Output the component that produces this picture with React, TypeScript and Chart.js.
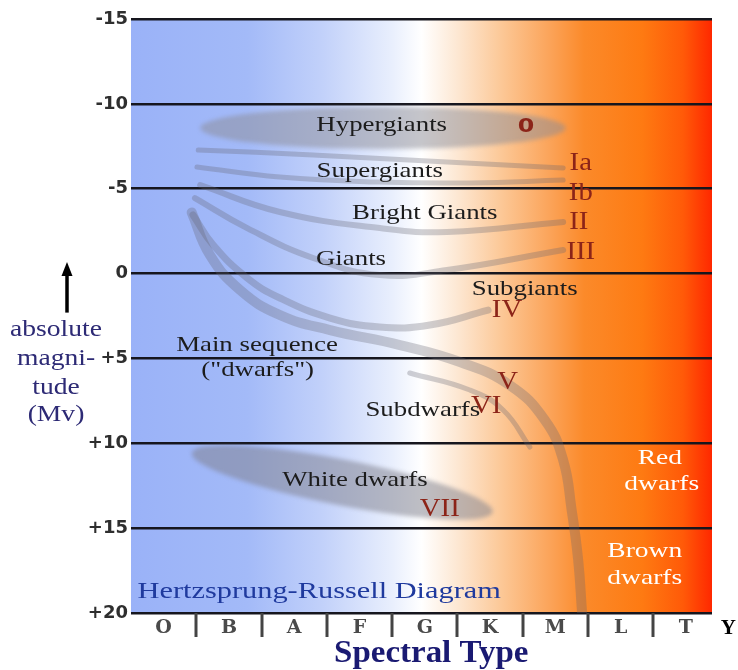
import React, { useEffect, useRef } from 'react';
import { Chart, registerables } from 'chart.js';

Chart.register(...registerables);

// ---- Data ----
const spectralTypes = ['O', 'B', 'A', 'F', 'G', 'K', 'M', 'L', 'T'];
const extraType = 'Y';
const magnitudeTicks = [-15, -10, -5, 0, 5, 10, 15, 20];

// Luminosity-class tracks: [spectral position, absolute magnitude]
const classIa = [[1.03, -7.28], [2.79, -6.99], [4.84, -6.57], [6.62, -6.22]];
const classIb = [[1.01, -6.28], [2.28, -5.69], [3.81, -5.39], [5.19, -5.34], [6.62, -5.51]];
const classII = [[1.06, -5.22], [2.28, -3.63], [3.81, -2.68], [4.84, -2.45], [6.62, -3.04]];
const classIII = [[0.98, -4.45], [1.78, -2.68], [2.79, -0.92], [3.81, 0.09], [4.84, -0.21], [6.62, -1.39]];
const classIV = [[0.95, -3.45], [1.26, -1.68], [1.78, 0.26], [2.28, 1.44], [3.05, 2.62], [3.81, 3.15], [4.58, 3.03], [5.47, 2.15]];
const classV = [[0.93, -3.6], [1.21, -1.09], [1.67, 0.97], [2.28, 2.44], [3.05, 3.33], [4.12, 4.21], [5.04, 5.21], [5.8, 6.57], [6.34, 8.63], [6.62, 10.99], [6.75, 13.93], [6.85, 16.88], [6.91, 20]];
const classVI = [[4.27, 5.86], [5.19, 6.86], [5.7, 8.04], [6.11, 10.22]];

// Zones drawn as ellipses: major-axis end points and half width (magnitudes)
const hypergiantAxis = [[1.06, -8.58], [6.66, -8.58]];
const hypergiantHalfWidth = 1.24;
const whiteDwarfAxis = [[0.93, 10.57], [5.54, 14.05]];
const whiteDwarfHalfWidth = 1.35;

// Text annotations: [text, spectral position, magnitude]
const regionLabels: [string, number, number][] = [
  ['Hypergiants', 3.84, -8.75],
  ['Supergiants', 3.81, -6.04],
  ['Bright Giants', 4.5, -3.57],
  ['Giants', 3.37, -0.86],
  ['Subgiants', 6.03, 0.91],
  ['Main sequence', 1.93, 4.21],
  ['("dwarfs")', 1.94, 5.68],
  ['Subdwarfs', 4.47, 8.04],
  ['White dwarfs', 3.43, 12.17],
];
const classLabels: [string, number, number][] = [
  ['Ia', 6.89, -6.46],
  ['Ib', 6.89, -4.75],
  ['II', 6.86, -3.04],
  ['III', 6.89, -1.27],
  ['IV', 5.76, 2.15],
  ['V', 5.77, 6.39],
  ['VI', 5.44, 7.81],
  ['VII', 4.73, 13.87],
];
const hypergiantClass: [string, number, number] = ['0', 6.05, -8.64];
const coolDwarfLabels: [string, number, number][] = [
  ['Red', 8.1, 10.87],
  ['dwarfs', 8.13, 12.4],
  ['Brown', 7.87, 16.35],
  ['dwarfs', 7.87, 17.94],
];
const diagramTitle: [string, number, number] = ['Hertzsprung-Russell Diagram', 0.1, 18.75];
const magnitudeTitle = ['absolute', 'magni-', 'tude', '(Mv)'];
const magnitudeTitleRows = [3.33, 5.04, 6.74, 8.34];
const arrowRange = [2.3, -0.68];
const spectralTitle = 'Spectral Type';

// ---- Styles ----
const gradientStops: [number, string][] = [
  [0, '#9ab2f8'],
  [0.2, '#a3baf8'],
  [0.33, '#c2d1fa'],
  [0.45, '#e9effd'],
  [0.5, '#ffffff'],
  [0.56, '#fde8d4'],
  [0.64, '#fcc795'],
  [0.72, '#fba45a'],
  [0.78, '#fb8a2a'],
  [0.88, '#fe7a12'],
  [0.95, '#ff5a08'],
  [1, '#ff2800'],
];
const tracks = [classIa, classIb, classII, classIII, classIV, classV, classVI];
const trackWidths = [5, 5, 6, 6, 7, 10, 5];

function drawText(ctx: CanvasRenderingContext2D, text: string, x: number, y: number, font: string, color: string, sx: number, align: CanvasTextAlign = 'center', baseline: CanvasTextBaseline = 'middle') {
  ctx.save();
  ctx.translate(x, y);
  ctx.scale(sx, 1);
  ctx.font = font;
  ctx.fillStyle = color;
  ctx.textAlign = align;
  ctx.textBaseline = baseline;
  ctx.fillText(text, 0, 0);
  ctx.restore();
}

function drawEllipse(chart: any, axis: number[][], halfWidth: number, color: string) {
  const { ctx, scales } = chart;
  const xs = scales.x, ys = scales.y;
  const x1 = xs.getPixelForValue(axis[0][0]), y1 = ys.getPixelForValue(axis[0][1]);
  const x2 = xs.getPixelForValue(axis[1][0]), y2 = ys.getPixelForValue(axis[1][1]);
  const cx = (x1 + x2) / 2, cy = (y1 + y2) / 2;
  const a = Math.hypot(x2 - x1, y2 - y1) / 2;
  const b = Math.abs(ys.getPixelForValue(halfWidth) - ys.getPixelForValue(0));
  const ang = Math.atan2(y2 - y1, x2 - x1);
  ctx.save();
  ctx.filter = 'blur(2px)';
  ctx.fillStyle = color;
  ctx.beginPath();
  ctx.ellipse(cx, cy, a, b, ang, 0, Math.PI * 2);
  ctx.fill();
  ctx.restore();
}

const hrPlugin = {
  id: 'hrDecor',
  beforeDraw(chart: any) {
    const { ctx, chartArea } = chart;
    const { left, top, right, bottom } = chartArea;
    const g = ctx.createLinearGradient(left, 0, right, 0);
    gradientStops.forEach(([o, c]) => g.addColorStop(o, c));
    ctx.save();
    ctx.fillStyle = g;
    ctx.fillRect(left, top, right - left, bottom - top);
    ctx.restore();
  },
  beforeDatasetsDraw(chart: any) {
    drawEllipse(chart, hypergiantAxis, hypergiantHalfWidth, 'rgba(140,140,150,0.5)');
    drawEllipse(chart, whiteDwarfAxis, whiteDwarfHalfWidth, 'rgba(125,125,138,0.5)');
  },
  afterDatasetsDraw(chart: any) {
    const { ctx, scales } = chart;
    const xs = scales.x, ys = scales.y;
    const px = (v: number) => xs.getPixelForValue(v);
    const py = (v: number) => ys.getPixelForValue(v);
    regionLabels.forEach(([t, x, y]) => drawText(ctx, t, px(x), py(y), '22px "Liberation Serif"', '#1c1c1c', 1.22));
    classLabels.forEach(([t, x, y]) => drawText(ctx, t, px(x), py(y), '25px "Liberation Serif"', '#8c2418', 1.15));
    drawText(ctx, hypergiantClass[0], px(hypergiantClass[1]), py(hypergiantClass[2]), 'bold 19px "DejaVu Sans"', '#8c2418', 1.25);
    coolDwarfLabels.forEach(([t, x, y]) => drawText(ctx, t, px(x), py(y), '22px "Liberation Serif"', '#ffffff', 1.25));
    drawText(ctx, diagramTitle[0], px(diagramTitle[1]), py(diagramTitle[2]), '23px "Liberation Serif"', '#1f3a9e', 1.32, 'left');
  },
  afterDraw(chart: any) {
    const { ctx, scales, chartArea } = chart;
    const xs = scales.x, ys = scales.y;
    // separators between spectral classes
    ctx.save();
    ctx.strokeStyle = '#444';
    ctx.lineWidth = 3;
    for (let i = 1; i < spectralTypes.length; i++) {
      const x = Math.round(xs.getPixelForValue(i));
      ctx.beginPath();
      ctx.moveTo(x, chartArea.bottom);
      ctx.lineTo(x, chartArea.bottom + 24);
      ctx.stroke();
    }
    ctx.restore();
    const labelY = chartArea.bottom + 16;
    drawText(ctx, extraType, xs.getPixelForValue(9.15), labelY, 'bold 21px "Liberation Serif"', '#000', 1.0);
    drawText(ctx, spectralTitle, xs.getPixelForValue(4.6), chartArea.bottom + 49, 'bold 32px "Liberation Serif"', '#1a1a72', 1.03, 'center', 'alphabetic');
    // magnitude axis title
    const tx = chartArea.left - 75;
    magnitudeTitle.forEach((t, i) => drawText(ctx, t, tx, ys.getPixelForValue(magnitudeTitleRows[i]), '23px "Liberation Serif"', '#2d2a75', 1.2));
    // arrow
    const ax = chartArea.left - 64;
    const yb = ys.getPixelForValue(arrowRange[0]);
    const yt = ys.getPixelForValue(arrowRange[1]);
    ctx.save();
    ctx.strokeStyle = '#000';
    ctx.fillStyle = '#000';
    ctx.lineWidth = 3.5;
    ctx.beginPath();
    ctx.moveTo(ax, yb);
    ctx.lineTo(ax, yt + 10);
    ctx.stroke();
    ctx.beginPath();
    ctx.moveTo(ax, yt);
    ctx.lineTo(ax - 5.5, yt + 14);
    ctx.lineTo(ax + 5.5, yt + 14);
    ctx.closePath();
    ctx.fill();
    ctx.restore();
  },
};

export default function App() {
  const ref = useRef<HTMLCanvasElement | null>(null);
  useEffect(() => {
    if (!ref.current) return;
    const chart = new Chart(ref.current, {
      type: 'scatter',
      data: {
        datasets: tracks.map((t, i) => ({
          data: t.map(([x, y]) => ({ x, y })),
          showLine: true,
          borderColor: 'rgba(100,100,112,0.3)',
          borderWidth: trackWidths[i],
          pointRadius: 0,
          tension: 0.45,
          borderCapStyle: 'round' as const,
          fill: false,
        })),
      },
      options: {
        animation: false,
        responsive: true,
        maintainAspectRatio: false,
        layout: { padding: { top: 19, right: 26, left: 0, bottom: 0 } },
        plugins: { legend: { display: false }, tooltip: { enabled: false } },
        scales: {
          x: {
            type: 'linear',
            min: 0,
            max: 8.9,
            grid: { display: false, drawTicks: false },
            border: { display: false },
            afterBuildTicks: (s: any) => {
              s.ticks = spectralTypes.map((_, i) => ({ value: i + 0.5 }));
            },
            afterFit: (s: any) => {
              s.height = 57;
            },
            ticks: {
              autoSkip: false,
              maxRotation: 0,
              padding: 4,
              color: '#4a4a4a',
              font: { family: 'DejaVu Serif', weight: 'bold', size: 19 },
              callback: (_v: any, i: number) => spectralTypes[i],
            },
          },
          y: {
            type: 'linear',
            reverse: true,
            min: -15,
            max: 20,
            afterBuildTicks: (s: any) => {
              s.ticks = magnitudeTicks.map((v) => ({ value: v }));
            },
            afterFit: (s: any) => {
              s.width = 131;
            },
            grid: { color: '#16161e', lineWidth: 2.5, drawTicks: false },
            border: { display: false },
            ticks: {
              padding: 3,
              color: '#2e2e2e',
              font: { family: 'DejaVu Sans', weight: 'bold', size: 18 },
              callback: (v: any) => (Number(v) > 0 ? '+' + v : String(v)),
            },
          },
        },
      },
      plugins: [hrPlugin],
    } as any);
    return () => chart.destroy();
  }, []);
  return (
    <div style={{ position: 'fixed', left: 0, top: 0, width: 738, height: 670, background: '#fff' }}>
      <canvas ref={ref} />
    </div>
  );
}
